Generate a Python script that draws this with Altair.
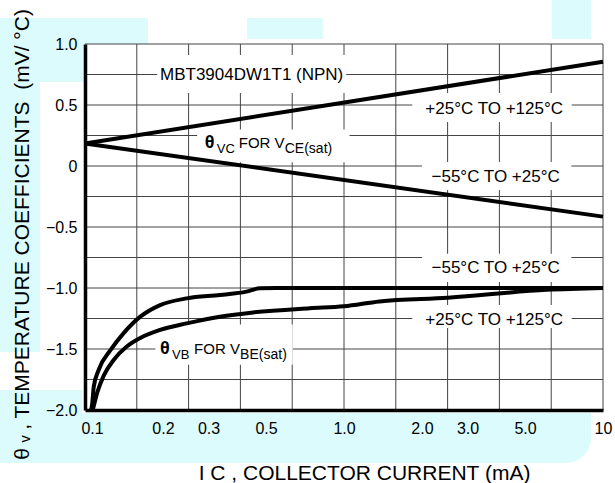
import altair as alt
import pandas as pd

# ---------------- data ----------------
x_tick_values = [0.1, 0.2, 0.3, 0.5, 1.0, 2.0, 3.0, 5.0, 10.0]
y_tick_values = [-2.0, -1.5, -1.0, -0.5, 0.0, 0.5, 1.0]
x_grid = [0.1585, 0.2512, 0.3981, 0.631, 1.0, 1.585, 2.512, 3.981, 6.31, 10.0]
y_grid = [-1.75, -1.5, -1.25, -1.0, -0.75, -0.5, -0.25, 0.0, 0.25, 0.5, 0.75, 1.0]

# theta_VC for VCE(sat)
vc_hot_x = [0.1, 10.0]
vc_hot_y = [0.185, 0.855]      # +25 to +125 C
vc_cold_x = [0.1, 10.0]
vc_cold_y = [0.185, -0.415]    # -55 to +25 C

# theta_VB for VBE(sat)
vb_cold_x = [0.1056, 0.1066, 0.1081, 0.113, 0.1254, 0.141, 0.1635, 0.195, 0.247,
             0.332, 0.42, 0.473, 0.55, 10.0]
vb_cold_y = [-2.0, -1.95, -1.81, -1.67, -1.51, -1.37, -1.235, -1.14, -1.085,
             -1.057, -1.03, -1.003, -1.0, -1.0]
vb_hot_x = [0.107, 0.108, 0.1114, 0.118, 0.129, 0.145, 0.1635, 0.195, 0.247,
            0.332, 0.446, 0.737, 1.0, 1.37, 2.52, 6.06, 10.0]
vb_hot_y = [-2.0, -1.97, -1.86, -1.72, -1.59, -1.48, -1.41, -1.344, -1.29,
            -1.235, -1.20, -1.166, -1.15, -1.11, -1.08, -1.015, -1.0]

# annotations
label_text = ["MBT3904DW1T1 (NPN)", "+25°C TO +125°C", "−55°C TO +25°C",
              "−55°C TO +25°C", "+25°C TO +125°C"]
label_x = [0.44, 3.8, 3.85, 3.85, 3.8]
label_y = [0.75, 0.47, -0.09, -0.84, -1.26]

sub_theta = ["θ", "θ"]
sub_first = ["VC", "VB"]
sub_mid = ["FOR V", "FOR V"]
sub_last = ["CE(sat)", "BE(sat)"]
sub_x = [0.29, 0.195]
sub_y = [0.145, -1.543]

# white boxes behind the labels (data units)
box_x0 = [0.19, 1.835, 2.0, 2.0, 1.835, 0.271, 0.187]
box_x1 = [1.02, 7.57, 7.55, 7.55, 7.57, 1.05, 0.634]
box_y0 = [0.598, 0.361, -0.197, -0.95, -1.328, 0.03, -1.63]
box_y1 = [0.91, 0.598, 0.033, -0.72, -1.139, 0.30, -1.30]

# ---------------- layout / style ----------------
W, H = 518, 366
FONT = "Liberation Sans"
CYAN = "#dbfbfc"
GRID = "#444444"

xs = alt.Scale(type="log", domain=[0.1, 10], nice=False)
ys = alt.Scale(domain=[-2, 1], nice=False, zero=False)

x_axis = alt.Axis(
    values=x_tick_values,
    labelExpr="datum.value >= 10 ? '10' : format(datum.value, '.1f')",
    title="I C , COLLECTOR CURRENT (mA)",
    grid=False, ticks=False, domainWidth=3.5, domainColor="black",
    labelFont=FONT, labelFontSize=16, labelColor="black", labelPadding=10,
    labelFlush=False, labelOverlap=False,
    labelOffset={"condition": {"test": "datum.value < 0.15", "value": 7}, "value": 0},
    titleFont=FONT, titleFontSize=21, titleFontWeight="normal", titleColor="black",
    titleX=279, titleY=69, titleBaseline="alphabetic", zindex=1,
)
y_axis = alt.Axis(
    values=y_tick_values,
    labelExpr="datum.value == 0 ? '0' : format(datum.value, '.1f')",
    title="θ ᵥ , TEMPERATURE COEFFICIENTS\u00a0 (mV/ °C)",
    grid=False, ticks=False, domainWidth=3.5, domainColor="black",
    labelFont=FONT, labelFontSize=16, labelColor="black", labelPadding=8,
    labelOverlap=False,
    titleFont=FONT, titleFontSize=21, titleFontWeight="normal", titleColor="black",
    titleX=-57, titleY=190, titleBaseline="alphabetic", zindex=1,
)


def X(f):
    return alt.X(f, type="quantitative", scale=xs, axis=x_axis)


def Y(f):
    return alt.Y(f, type="quantitative", scale=ys, axis=y_axis)


one = pd.DataFrame({"a": [0]})

# decorative light-cyan background blocks
bg_specs = [
    dict(x=-85, x2=63, y=-26, y2=38),
    dict(x=-85, x2=-45, y=38, y2=308),
    dict(x=-85, x2=-3, y=346, y2=419),
    dict(x=162, x2=238, y=-26, y2=-5),
    dict(x=467, x2=506, y=-44, y2=-5),
]
bg_layers = [
    alt.Chart(one).mark_rect(color=CYAN).encode(
        x=alt.value(b["x"]), x2=alt.value(b["x2"]), y=alt.value(b["y"]), y2=alt.value(b["y2"]))
    for b in bg_specs
]
bg_layers.append(
    alt.Chart(one).mark_rect(color=CYAN, cornerRadiusBottomRight=38).encode(
        x=alt.value(-85), x2=alt.value(506), y=alt.value(369), y2=alt.value(419))
)
plot_bg = alt.Chart(one).mark_rect(color="white").encode(
    x=alt.value(0), x2=alt.value(W), y=alt.value(0), y2=alt.value(H))

# grid
vgrid = pd.DataFrame({"x": x_grid, "y": [-2.0] * len(x_grid), "y2": [1.0] * len(x_grid)})
hgrid = pd.DataFrame({"y": y_grid, "x": [0.1] * len(y_grid), "x2": [10.0] * len(y_grid)})
vgrid_layer = alt.Chart(vgrid).mark_rule(color=GRID, strokeWidth=1).encode(
    x=X("x"), y=Y("y"), y2="y2")
hgrid_layer = alt.Chart(hgrid).mark_rule(color=GRID, strokeWidth=1).encode(
    y=Y("y"), x=X("x"), x2="x2")

boxes = pd.DataFrame({"x": box_x0, "x2": box_x1, "y": box_y0, "y2": box_y1})
box_layer = alt.Chart(boxes).mark_rect(color="white").encode(
    x=X("x"), x2="x2", y=Y("y"), y2="y2")

# curves
rows = []
for name, xv, yv in [("vc_hot", vc_hot_x, vc_hot_y), ("vc_cold", vc_cold_x, vc_cold_y),
                     ("vb_cold", vb_cold_x, vb_cold_y), ("vb_hot", vb_hot_x, vb_hot_y)]:
    for i, (a, b) in enumerate(zip(xv, yv)):
        rows.append({"series": name, "x": a, "y": b, "o": i})
curves = pd.DataFrame(rows)
line_layer = alt.Chart(curves).mark_line(
    color="black", strokeWidth=4, interpolate="monotone").encode(
    x=X("x"), y=Y("y"), detail="series:N", order="o:Q")

# labels
labels = pd.DataFrame({"x": label_x, "y": label_y, "t": label_text})
label_layer = alt.Chart(labels).mark_text(
    font=FONT, fontSize=17, color="black", baseline="middle", align="center").encode(
    x=X("x"), y=Y("y"), text="t:N")

subs = pd.DataFrame({"x": sub_x, "y": sub_y, "th": sub_theta, "s1": sub_first,
                     "m": sub_mid, "s2": sub_last})
th_layer = alt.Chart(subs).mark_text(
    font=FONT, fontSize=18, fontWeight="bold", color="black", align="left",
    baseline="alphabetic").encode(x=X("x"), y=Y("y"), text="th:N")
s1_layer = alt.Chart(subs).mark_text(
    font=FONT, fontSize=13, color="black", align="left", baseline="alphabetic",
    dx=12, dy=5).encode(x=X("x"), y=Y("y"), text="s1:N")
m_layer = alt.Chart(subs).mark_text(
    font=FONT, fontSize=15, color="black", align="left", baseline="alphabetic",
    dx=34).encode(x=X("x"), y=Y("y"), text="m:N")
s2_layer = alt.Chart(subs).mark_text(
    font=FONT, fontSize=14, color="black", align="left", baseline="alphabetic",
    dx=80, dy=5).encode(x=X("x"), y=Y("y"), text="s2:N")

chart = alt.layer(
    *bg_layers, plot_bg, vgrid_layer, hgrid_layer, box_layer, line_layer,
    label_layer, th_layer, s1_layer, m_layer, s2_layer,
).properties(
    width=W, height=H,
    autosize=alt.AutoSizeParams(type="none"),
    padding={"left": 85, "top": 44, "right": 12, "bottom": 73},
    background="white",
).configure_view(stroke=None)

chart.save("out.html", embed_options={"renderer": "svg", "actions": False})
